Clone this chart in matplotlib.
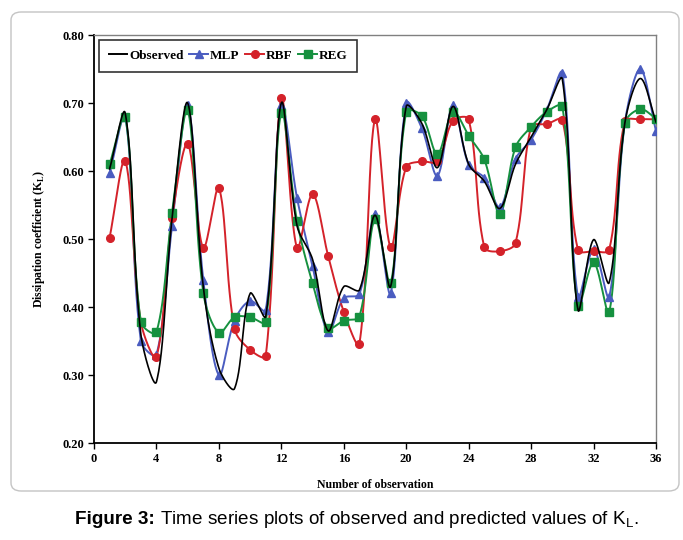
import numpy as np
import matplotlib
matplotlib.use("Agg")
import matplotlib.pyplot as plt
from matplotlib.patches import FancyBboxPatch
from matplotlib.lines import Line2D

obs_no = list(range(1, 37))
observed = [0.603, 0.685, 0.360, 0.290, 0.530, 0.700, 0.430, 0.310, 0.280, 0.420,
            0.386, 0.700, 0.520, 0.470, 0.365, 0.430, 0.425, 0.535, 0.430, 0.695,
            0.670, 0.605, 0.695, 0.610, 0.585, 0.545, 0.610, 0.650, 0.690, 0.735,
            0.396, 0.499, 0.436, 0.670, 0.736, 0.672]
mlp = [0.597, 0.680, 0.350, 0.330, 0.519, 0.697, 0.440, 0.300, 0.380, 0.409,
       0.395, 0.697, 0.561, 0.460, 0.363, 0.413, 0.419, 0.537, 0.420, 0.700,
       0.663, 0.593, 0.697, 0.609, 0.590, 0.547, 0.618, 0.646, 0.690, 0.744,
       0.415, 0.485, 0.415, 0.670, 0.750, 0.659]
rbf = [0.502, 0.615, 0.378, 0.327, 0.531, 0.640, 0.487, 0.575, 0.368, 0.337,
       0.328, 0.708, 0.487, 0.566, 0.475, 0.393, 0.346, 0.676, 0.488, 0.606,
       0.614, 0.614, 0.674, 0.676, 0.488, 0.482, 0.494, 0.665, 0.669, 0.675,
       0.484, 0.482, 0.484, 0.673, 0.676, 0.676]
reg = [0.610, 0.680, 0.378, 0.363, 0.538, 0.689, 0.421, 0.362, 0.385, 0.385,
       0.378, 0.686, 0.527, 0.435, 0.369, 0.380, 0.386, 0.529, 0.435, 0.687,
       0.681, 0.625, 0.687, 0.652, 0.617, 0.537, 0.635, 0.665, 0.687, 0.695,
       0.401, 0.466, 0.392, 0.670, 0.691, 0.677]

x_ticks = list(range(0, 37, 4))
y_ticks = [0.20, 0.30, 0.40, 0.50, 0.60, 0.70, 0.80]


def smooth(ax, x, y, n=30):
    # spreadsheet-style smoothed line: cubic Bezier per segment, control arms
    # along (next - prev), split by the screen lengths of the two neighbours
    pts = ax.transData.transform(np.column_stack([x, y]))
    m = len(pts)
    out = [pts[0:1]]
    t = np.linspace(0, 1, n)[1:, None]
    for i in range(m - 1):
        p1, p2 = pts[i], pts[i + 1]
        p0 = pts[i - 1] if i > 0 else p1
        p3 = pts[i + 2] if i + 2 < m else p2
        d01 = np.hypot(*(p1 - p0))
        d12 = np.hypot(*(p2 - p1))
        d23 = np.hypot(*(p3 - p2))
        c1 = p1 + (p2 - p0) * (d12 / (3 * (d01 + d12)) if d01 + d12 > 0 else 0)
        c2 = p2 - (p3 - p1) * (d12 / (3 * (d12 + d23)) if d12 + d23 > 0 else 0)
        seg = ((1 - t) ** 3 * p1 + 3 * (1 - t) ** 2 * t * c1
               + 3 * (1 - t) * t ** 2 * c2 + t ** 3 * p2)
        out.append(seg)
    path = np.vstack(out)
    data = ax.transData.inverted().transform(path)
    return data[:, 0], data[:, 1]


serif = ["Liberation Serif", "DejaVu Serif"]
sans = ["Liberation Sans", "DejaVu Sans"]

fig = plt.figure(figsize=(6.83, 5.4), dpi=100)
border = FancyBboxPatch((11 / 683, 49 / 540), 668 / 683, 479 / 540,
                        boxstyle="round,pad=0,rounding_size=0.015",
                        transform=fig.transFigure, facecolor="none",
                        edgecolor="#c4c4c4", linewidth=1.0, zorder=-1)
fig.add_artist(border)

ax = fig.add_axes([94 / 683, 1 - 443 / 540, (656 - 94) / 683, (443 - 35) / 540])
ax.set_facecolor("none")
ax.set_xlim(0, 36)
ax.set_ylim(0.2, 0.8)

series = [
    ("MLP", mlp, "#4a5cc0", "^"),
    ("RBF", rbf, "#d4222a", "o"),
    ("REG", reg, "#16913f", "s"),
]
for name, vals, col, mk in series:
    sx, sy = smooth(ax, obs_no, vals)
    ax.plot(sx, sy, color=col, lw=1.4, zorder=2)
    ax.plot(obs_no, vals, ls="none", marker=mk, ms=5.5, color=col, zorder=3)

sx, sy = smooth(ax, obs_no, observed)
ax.plot(sx, sy, color="black", lw=1.2, zorder=4)

ax.set_xlim(0, 36)
ax.set_ylim(0.2, 0.8)
ax.set_xticks(x_ticks)
ax.set_yticks(y_ticks)
ax.set_yticklabels(["%.2f" % v for v in y_ticks])
ax.tick_params(direction="out", length=4, width=1, labelsize=9, pad=3)
for lab in ax.get_xticklabels() + ax.get_yticklabels():
    lab.set_family(serif)
    lab.set_fontweight("bold")
for s in ("left", "bottom"):
    ax.spines[s].set_linewidth(1.3)
    ax.spines[s].set_color("black")
for s in ("top", "right"):
    ax.spines[s].set_linewidth(1.0)
    ax.spines[s].set_color("#808080")

ax.set_xlabel("Number of observation", family=serif, fontweight="bold",
              fontsize=8.5, labelpad=10)
ax.set_ylabel(r"Dissipation coefficient (K$_\mathregular{L}$)", family=serif,
              fontweight="bold", fontsize=8.5, labelpad=11)

handles = [Line2D([], [], color="black", lw=1.4)]
labels = ["Observed"]
for name, vals, col, mk in series:
    handles.append(Line2D([], [], color=col, lw=1.4, marker=mk, ms=5.5))
    labels.append(name)
leg = ax.legend(handles, labels, loc="upper left", ncol=4, frameon=True,
                fancybox=False, edgecolor="black", handlelength=1.4,
                handletextpad=0.15, columnspacing=0.45, borderaxespad=0.35,
                borderpad=0.75,
                prop={"family": serif, "weight": "bold", "size": 9.5})
leg.get_frame().set_linewidth(1.2)

# caption
fig.canvas.draw()
t1 = fig.text(0, 0, "Figure 3:", family=sans, fontweight="bold", fontsize=13.6)
t2 = fig.text(0, 0, r" Time series plots of observed and predicted values of K$_\mathregular{L}$.",
              family=sans, fontsize=13.6)
r = fig.canvas.get_renderer()
w1 = t1.get_window_extent(r).width
w2 = t2.get_window_extent(r).width
x0 = (357 - (w1 + w2) / 2) / 683
t1.set_position((x0, 1 - 524 / 540))
t2.set_position((x0 + w1 / 683, 1 - 524 / 540))

fig.savefig("out.png", dpi=100)
